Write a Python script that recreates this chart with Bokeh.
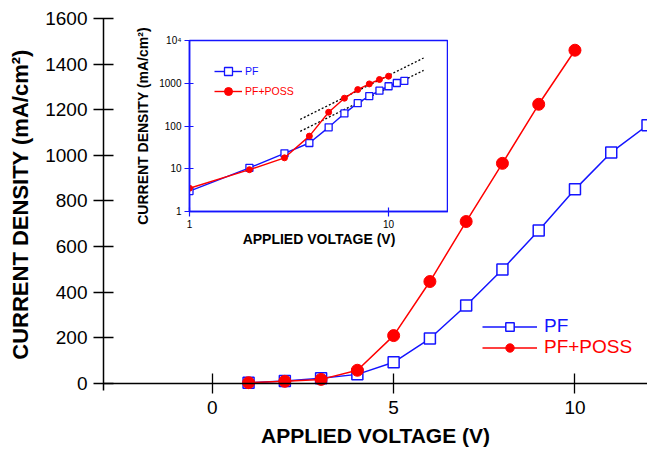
from bokeh.plotting import figure
from bokeh.layouts import column
from bokeh.models import Range1d, FixedTicker, Legend, LegendItem, Span
from bokeh.embed import file_html
from bokeh.resources import INLINE

# Measured J-V data
voltage_pf = [1, 2, 3, 4, 5, 6, 7, 8, 9, 10, 11, 12]
density_pf = [3.0, 10.5, 23, 40, 93, 197, 342, 500, 671, 851, 1013, 1132]

voltage_poss = [1, 2, 3, 4, 5, 6, 7, 8, 9, 10]
density_poss = [3.5, 9.5, 18, 58, 210, 447, 710, 965, 1224, 1461]

# Power-law guide lines for the log-log inset
fit_x = [3.6, 15]
fit_upper_y = [143, 3900]
fit_lower_y = [75, 2000]

x_ticks = [0, 5, 10]
y_ticks = [0, 200, 400, 600, 800, 1000, 1200, 1400, 1600]
inset_x_ticks = [1, 10]
inset_y_ticks = [1, 10, 100, 1000, 10000]
inset_y_labels = {1: "1", 10: "10", 100: "100", 1000: "1000", 10000: "10\u2074"}

BLUE = "#1414ff"
RED = "#ff0000"
FONT = "Liberation Sans"


def one_item_legend(label, renderers, color, loc, font_size, glyph_w, row_h, standoff):
    return Legend(items=[LegendItem(label=label, renderers=renderers)],
                  location=loc, padding=0, margin=0, spacing=0,
                  glyph_width=glyph_w, glyph_height=row_h, label_height=row_h,
                  label_standoff=standoff, border_line_color=None,
                  background_fill_alpha=0, label_text_color=color,
                  label_text_font=FONT, label_text_font_size=font_size)


# ---------------- main linear plot ----------------
p = figure(width=647, height=450, output_backend="svg", toolbar_location=None,
           x_range=Range1d(-3, 12), y_range=Range1d(-30.7, 1600),
           min_border_left=103, min_border_right=0, min_border_top=18,
           min_border_bottom=60)
p.outline_line_color = None
p.grid.visible = False
p.background_fill_color = "white"

p.xaxis.ticker = FixedTicker(ticks=x_ticks)
p.yaxis.ticker = FixedTicker(ticks=y_ticks)
for ax in (p.xaxis[0], p.yaxis[0]):
    ax.minor_tick_line_color = None
    ax.major_label_text_font = FONT
    ax.major_label_text_font_size = "19px"
    ax.major_label_text_color = "black"
    ax.axis_label_text_font = FONT
    ax.axis_label_text_font_style = "bold"
    ax.axis_label_text_color = "black"
    ax.major_tick_line_color = "black"
    ax.major_tick_line_width = 1.3
    ax.axis_line_width = 1.5

p.xaxis.axis_label = "APPLIED VOLTAGE (V)"
p.xaxis.axis_label_text_font_size = "21px"
p.xaxis.axis_line_color = None
p.xaxis.major_tick_in = 17
p.xaxis.major_tick_out = 3
p.xaxis.major_label_standoff = 7
p.xaxis.axis_label_standoff = 7

p.yaxis.axis_label = "CURRENT DENSITY (mA/cm\u00b2)"
p.yaxis.axis_label_text_font_size = "22px"
p.yaxis.major_tick_in = 10
p.yaxis.major_tick_out = 10
p.yaxis.major_label_standoff = 6
p.yaxis.axis_label_standoff = 9

# zero line acting as the x axis
p.add_layout(Span(location=0, dimension="width", line_color="black", line_width=1.5))

pf_line = p.line(voltage_pf, density_pf, line_color=BLUE, line_width=1.5)
pf_mark = p.scatter(voltage_pf, density_pf, marker="square", size=11,
                    line_color=BLUE, line_width=1.5, fill_color="white")
poss_line = p.line(voltage_poss, density_poss, line_color=RED, line_width=1.5)
poss_mark = p.scatter(voltage_poss, density_poss, marker="circle", size=12,
                      line_color=RED, fill_color=RED)

p.add_layout(one_item_legend("PF", [pf_line, pf_mark], BLUE, (379, 53), "19px", 55, 21, 7))
p.add_layout(one_item_legend("PF+POSS", [poss_line, poss_mark], RED, (379, 32), "19px", 55, 21, 7))

# ---------------- log-log inset ----------------
q = figure(width=362, height=236, output_backend="svg", toolbar_location=None,
           x_axis_type="log", y_axis_type="log",
           x_range=Range1d(1, 20), y_range=Range1d(1, 10000),
           min_border_left=103, min_border_right=0, min_border_top=25,
           min_border_bottom=40)
q.grid.visible = False
q.outline_line_color = BLUE
q.outline_line_width = 1.5
q.background_fill_color = None
q.border_fill_color = None

q.xaxis.ticker = FixedTicker(ticks=inset_x_ticks)
q.yaxis.ticker = FixedTicker(ticks=inset_y_ticks)
q.yaxis.major_label_overrides = inset_y_labels
q.xaxis.major_label_overrides = {1: "1", 10: "10"}
for ax in (q.xaxis[0], q.yaxis[0]):
    ax.minor_tick_line_color = None
    ax.axis_line_color = BLUE
    ax.axis_line_width = 1.5
    ax.major_tick_line_color = BLUE
    ax.major_tick_line_width = 1.2
    ax.major_tick_in = 4
    ax.major_tick_out = 5
    ax.major_label_text_font = FONT
    ax.major_label_text_font_size = "10px"
    ax.major_label_text_color = "black"
    ax.major_label_standoff = 3
    ax.axis_label_text_font = FONT
    ax.axis_label_text_font_style = "bold"
    ax.axis_label_text_font_size = "14px"
    ax.axis_label_text_color = "black"
q.xaxis.axis_label_standoff = 0
q.yaxis.axis_label_standoff = 5
q.xaxis.axis_label = "APPLIED VOLTAGE (V)"
q.yaxis.axis_label = "CURRENT DENSITY (mA/cm\u00b2)"

q.line(fit_x, fit_upper_y, line_color="black", line_width=1.3, line_dash="2 2")
q.line(fit_x, fit_lower_y, line_color="black", line_width=1.3, line_dash="2 2")

ipf_line = q.line(voltage_pf, density_pf, line_color=BLUE, line_width=1.4)
ipf_mark = q.scatter(voltage_pf, density_pf, marker="square", size=7,
                     line_color=BLUE, line_width=1.3, fill_color="white")
iposs_line = q.line(voltage_poss, density_poss, line_color=RED, line_width=1.4)
iposs_mark = q.scatter(voltage_poss, density_poss, marker="circle", size=6,
                       line_color=RED, fill_color=RED)

q.add_layout(one_item_legend("PF", [ipf_line, ipf_mark], BLUE, (25, 130), "10.5px", 28, 20, 3))
q.add_layout(one_item_legend("PF+POSS", [iposs_line, iposs_mark], RED, (25, 110), "10.5px", 28, 20, 3))

q.styles = {"position": "absolute", "left": "86px", "top": "15px", "z-index": "2"}

layout = column(p, q, styles={"position": "relative"})

open("out.html", "w").write(file_html(layout, INLINE))
